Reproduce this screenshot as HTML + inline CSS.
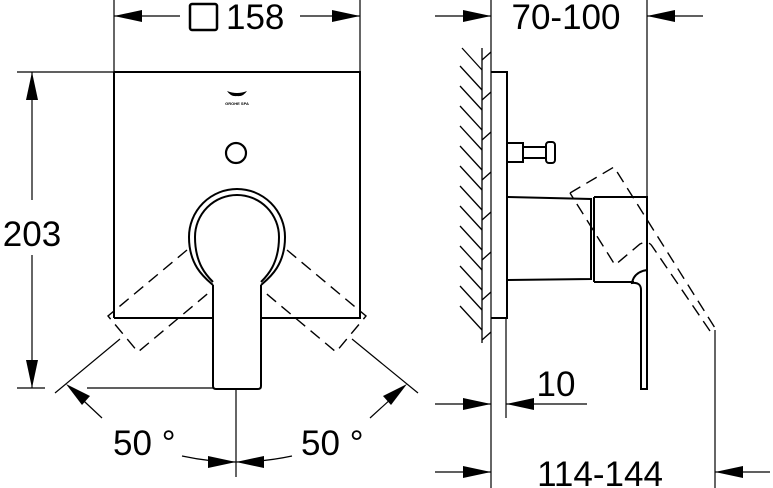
<!DOCTYPE html>
<html><head><meta charset="utf-8"><style>
html,body{margin:0;padding:0;background:#fff;width:773px;height:488px;overflow:hidden}
svg{display:block}
text{font-family:"Liberation Sans",sans-serif;fill:#000}
</style></head><body>
<svg width="773" height="488" viewBox="0 0 773 488" xmlns="http://www.w3.org/2000/svg">
<g stroke="#000" fill="none" stroke-width="1.2">
<line x1="114" y1="0" x2="114" y2="72"/>
<line x1="360" y1="0" x2="360" y2="72"/>
<line x1="114" y1="16" x2="180" y2="16"/>
<line x1="300" y1="16" x2="360" y2="16"/>
<line x1="17" y1="72" x2="114" y2="72"/>
<line x1="17" y1="388" x2="45" y2="388"/>
<line x1="87" y1="388" x2="213" y2="388"/>
<line x1="32" y1="72" x2="32" y2="200"/>
<line x1="32" y1="255" x2="32" y2="388"/>
<line x1="236" y1="388" x2="236" y2="477"/>
<line x1="55" y1="393" x2="120" y2="339"/>
<line x1="418" y1="393" x2="352" y2="339"/>
<line x1="102" y1="418" x2="70" y2="388"/>
<line x1="370" y1="418" x2="403" y2="388"/>
<path d="M182 456 Q210 462 236 462"/>
<path d="M292 456 Q264 462 236 462"/>
</g>
<g stroke="#000" fill="none" stroke-width="2">
<path d="M114 72 H360 V318 H261 M213 318 H114 Z"/>
<line x1="114" y1="72" x2="114" y2="318"/>
<circle cx="236" cy="153" r="10" stroke-width="2.2"/>
<path d="M213 285 C205 278 189 266 189 237 A48 48 0 1 1 285 237 C285 266 269 278 261 285"/>
<path d="M213 282 C207 276 195 264 195 237 A42 42 0 1 1 279 237 C279 264 267 276 261 282"/>
<path d="M213 285 V386 Q213 389 216 389 H258 Q261 389 261 386 V285"/>
</g>
<g stroke="#000" fill="none" stroke-width="1.4" stroke-dasharray="12,7">
<path d="M187 250 L108 316 L138 352 L212 290"/>
<path d="M287 250 L366 316 L336 352 L262 290"/>
<path d="M570 193 L614 167 L715 328 L710 331 L652 246 Q648 240 640 244 L615 265 L570 193"/>
</g>
<g fill="#000">
<polygon points="114,16 142,10 142,22"/>
<polygon points="360,16 332,10 332,22"/>
<polygon points="32,72 26,100 38,100"/>
<polygon points="32,388 26,360 38,360"/>
<polygon points="66,384 90,396 82,405"/>
<polygon points="407,384 383,396 391,405"/>
<polygon points="236,462 208,456 208,468"/>
<polygon points="236,462 264,456 264,468"/>
<polygon points="491,16 463,10 463,22"/>
<polygon points="647,16 675,10 675,22"/>
<polygon points="491,404 463,398 463,410"/>
<polygon points="506,404 534,398 534,410"/>
<polygon points="491,472 463,466 463,478"/>
<polygon points="715,472 743,466 743,478"/>
</g>
<path d="M227 91 Q237 95 247 91 Q243 97 237 96 Q231 97 227 91Z" fill="#000"/>
<text x="237" y="105" font-size="4" text-anchor="middle" font-weight="bold">GROHE SPA</text>
<rect x="190" y="4" width="27" height="26" rx="2" fill="none" stroke="#000" stroke-width="2.5"/>
<text x="226" y="29" font-size="35">158</text>
<text x="32" y="246" font-size="35" text-anchor="middle">203</text>
<text x="113" y="455" font-size="35">50 °</text>
<text x="301" y="455" font-size="35">50 °</text>
<text x="566" y="29" font-size="35" text-anchor="middle">70-100</text>
<text x="556" y="396" font-size="35" text-anchor="middle">10</text>
<text x="600" y="486" font-size="35" text-anchor="middle">114-144</text>
<g stroke="#000" fill="none" stroke-width="1.2">
<line x1="491" y1="0" x2="491" y2="488"/>
<line x1="647" y1="0" x2="647" y2="197"/>
<line x1="435" y1="16" x2="491" y2="16"/>
<line x1="647" y1="16" x2="703" y2="16"/>
<line x1="506" y1="318" x2="506" y2="418"/>
<line x1="435" y1="404" x2="491" y2="404"/>
<line x1="506" y1="404" x2="587" y2="404"/>
<line x1="715" y1="330" x2="715" y2="488"/>
<line x1="435" y1="472" x2="491" y2="472"/>
<line x1="715" y1="472" x2="770" y2="472"/>
<g stroke-width="1.3">
<line x1="482" y1="48" x2="482" y2="343"/>
<line x1="462" y1="48" x2="482" y2="70"/>
<line x1="460" y1="66" x2="482" y2="90"/>
<line x1="460" y1="86" x2="482" y2="110"/>
<line x1="460" y1="106" x2="482" y2="130"/>
<line x1="460" y1="126" x2="482" y2="150"/>
<line x1="460" y1="146" x2="482" y2="170"/>
<line x1="460" y1="166" x2="482" y2="190"/>
<line x1="460" y1="186" x2="482" y2="210"/>
<line x1="460" y1="206" x2="482" y2="230"/>
<line x1="460" y1="226" x2="482" y2="250"/>
<line x1="460" y1="246" x2="482" y2="270"/>
<line x1="460" y1="266" x2="482" y2="290"/>
<line x1="460" y1="286" x2="482" y2="310"/>
<line x1="460" y1="306" x2="482" y2="330"/>
<line x1="482" y1="60" x2="491" y2="52"/>
<line x1="482" y1="100" x2="491" y2="92"/>
<line x1="482" y1="140" x2="491" y2="132"/>
<line x1="482" y1="180" x2="491" y2="172"/>
<line x1="482" y1="220" x2="491" y2="212"/>
<line x1="482" y1="260" x2="491" y2="252"/>
<line x1="482" y1="300" x2="491" y2="292"/>
<line x1="482" y1="340" x2="491" y2="332"/>
</g>
</g>
<g stroke="#000" fill="none" stroke-width="2">
<path d="M491 72 H507 V318 H491"/>
<rect x="507" y="143" width="16" height="19"/>
<line x1="523" y1="147" x2="546" y2="147"/>
<line x1="523" y1="158" x2="546" y2="158"/>
<rect x="546" y="142" width="9" height="21" rx="3"/>
<path d="M507 197 L591 199 V279 L507 280"/>
<path d="M594 197 H647 V389 H641 V290 Q641 282 632 283 Q634 272 647 270"/>
<line x1="594" y1="197" x2="594" y2="282"/>
<line x1="594" y1="282" x2="634" y2="282"/>
</g>
</svg>
</body></html>
